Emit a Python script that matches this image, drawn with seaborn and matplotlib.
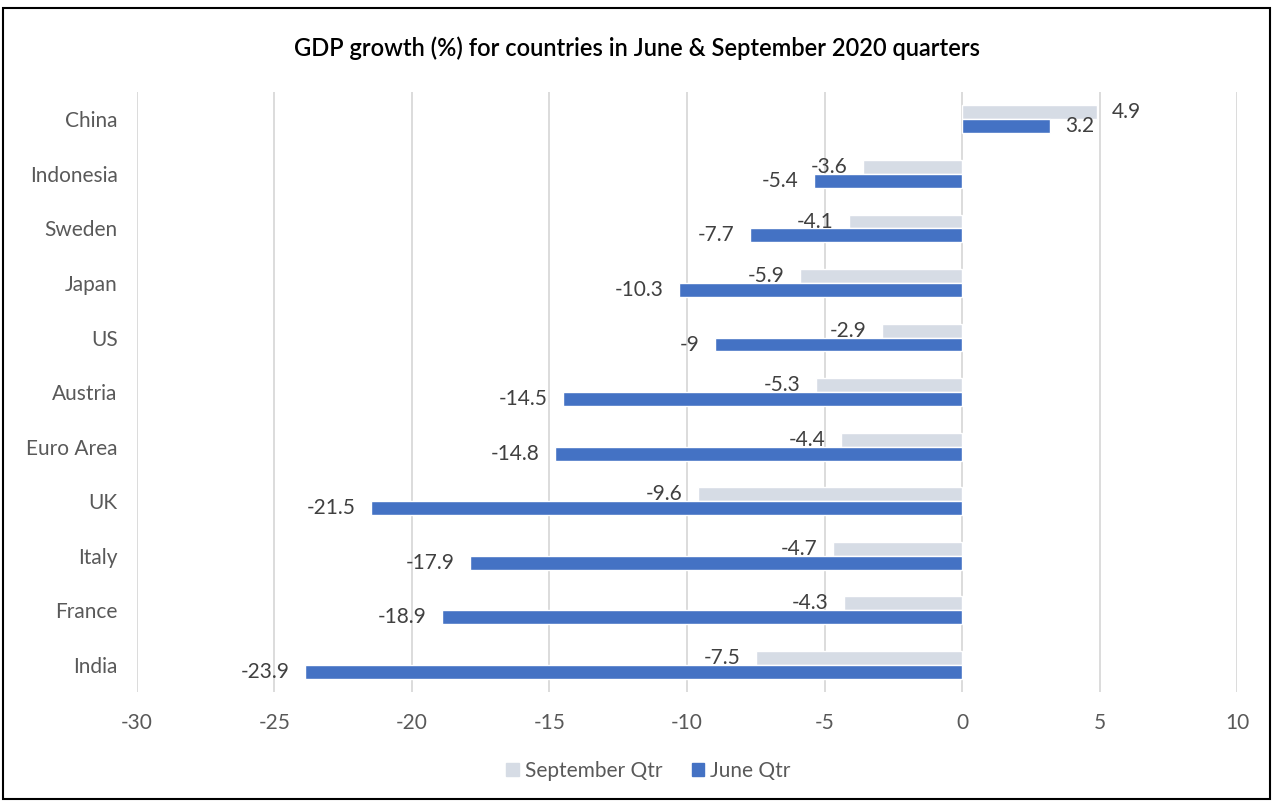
import matplotlib
matplotlib.use("Agg")
import matplotlib.pyplot as plt
from matplotlib.patches import Rectangle
import seaborn as sns
import pandas as pd

countries = ["China", "Indonesia", "Sweden", "Japan", "US", "Austria",
             "Euro Area", "UK", "Italy", "France", "India"]
sep_qtr = [4.9, -3.6, -4.1, -5.9, -2.9, -5.3, -4.4, -9.6, -4.7, -4.3, -7.5]
june_qtr = [3.2, -5.4, -7.7, -10.3, -9, -14.5, -14.8, -21.5, -17.9, -18.9, -23.9]
series = ["September Qtr", "June Qtr"]
colors = ["#D6DCE5", "#4472C4"]

df = pd.concat([
    pd.DataFrame({"country": countries, "growth": sep_qtr, "quarter": series[0]}),
    pd.DataFrame({"country": countries, "growth": june_qtr, "quarter": series[1]}),
])

sns.set_style("white")
plt.rcParams["font.family"] = ["Lato", "DejaVu Sans"]
plt.rcParams["axes.unicode_minus"] = False

fig = plt.figure(figsize=(12.74, 8.01), dpi=100)
ax = fig.add_axes([0.1075, 0.136, 0.8635, 0.749])

sns.barplot(data=df, x="growth", y="country", hue="quarter", hue_order=series,
            palette=colors, width=0.51, saturation=1, errorbar=None,
            orient="h", ax=ax)

for cont, vals in zip(ax.containers, [sep_qtr, june_qtr]):
    ax.bar_label(cont, labels=[f"{v:g}" for v in vals], padding=11,
                 fontsize=15, color="#404040")

ax.set_xlim(-30, 10)
ax.set_xticks(range(-30, 11, 5))
ax.grid(axis="x", color="#D9D9D9", lw=1.3)
ax.set_axisbelow(True)
sns.despine(ax=ax, left=True, bottom=True)
ax.set_xlabel("")
ax.set_ylabel("")
ax.tick_params(axis="both", length=0, labelsize=15, labelcolor="#595959")
ax.tick_params(axis="x", pad=15)
ax.tick_params(axis="y", pad=14)

ax.legend_.remove()
handles = [Rectangle((0, 0), 1, 1, color=c) for c in colors]
fig.legend(handles, series, loc="center", bbox_to_anchor=(0.509, 0.038), ncol=2,
           frameon=False, fontsize=15, labelcolor="#595959",
           handlelength=0.6, handleheight=0.6, handletextpad=0.3,
           columnspacing=1.4)

fig.suptitle("GDP growth (%) for countries in June & September 2020 quarters",
             y=0.955, fontsize=17, fontweight="semibold", color="black")

fig.patches.append(Rectangle((0.0025, 0.003), 0.9945, 0.987,
                             transform=fig.transFigure, fill=False,
                             ec="black", lw=1.5))

fig.savefig("out.png", dpi=100)
